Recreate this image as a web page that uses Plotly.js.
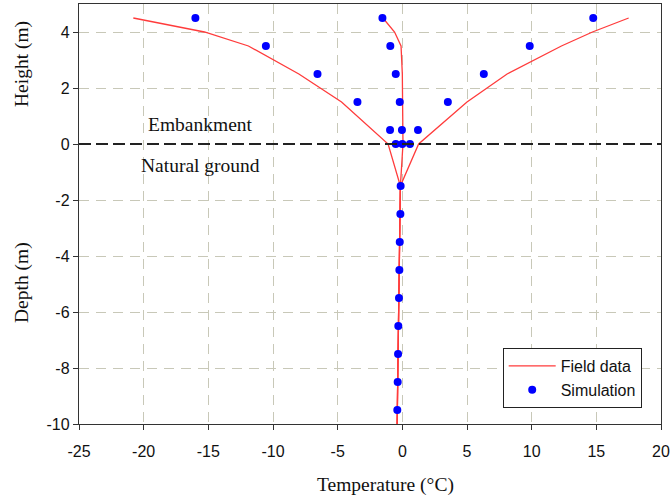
<!DOCTYPE html>
<html><head><meta charset="utf-8">
<script src="https://cdn.plot.ly/plotly-3.0.1.min.js"></script>
<style>html,body{margin:0;padding:0;background:#fff}#chart{width:670px;height:499px}</style>
</head><body><div id="chart"></div>
<script>
// Field data (three measured profiles), heights/depths in m, temperatures in °C
const upperY = [4.5, 4.0, 3.5, 2.5, 1.5, 0];
const fieldColdX = [-20.8, -15.3, -11.9, -8.0, -4.7, -1.1];
const fieldMidX = [-1.5, -0.6, -0.1, 0.0, 0.02, 0.05];
const fieldWarmX = [17.5, 14.7, 12.3, 8.1, 5.0, 1.26];
const lowerY = [-1.5, -2.5, -3.5, -4.5, -5.5, -6.5, -7.5, -8.5, -9.5, -10];
const fieldLowerX = [-0.15, -0.17, -0.2, -0.23, -0.26, -0.3, -0.33, -0.36, -0.39, -0.4];

// Simulation points
const simY = [4.5, 4.5, 4.5, 3.5, 3.5, 3.5, 2.5, 2.5, 2.5, 1.5, 1.5, 1.5, 0.5, 0.5, 0.5, 0, 0, 0,
              -1.5, -2.5, -3.5, -4.5, -5.5, -6.5, -7.5, -8.5, -9.5];
const simX = [-16.0, -1.54, 14.76, -10.55, -0.93, 9.85, -6.56, -0.51, 6.3, -3.47, -0.2, 3.52,
              -0.95, -0.03, 1.21, -0.51, 0.0, 0.59,
              -0.13, -0.15, -0.2, -0.23, -0.26, -0.31, -0.33, -0.36, -0.39];

const xTicks = [-25, -20, -15, -10, -5, 0, 5, 10, 15, 20];
const yTicks = [-10, -8, -6, -4, -2, 0, 2, 4];

const red = '#ff3b3b';
function branch(xs, show) {
  return {
    x: xs.concat(fieldLowerX), y: upperY.concat(lowerY),
    type: 'scatter', mode: 'lines', name: 'Field data',
    legendgroup: 'field', showlegend: show,
    line: {color: red, width: 1.3}
  };
}
const traces = [
  branch(fieldColdX, true),
  branch(fieldMidX, false),
  branch(fieldWarmX, false),
  {x: simX, y: simY, type: 'scatter', mode: 'markers', name: 'Simulation',
   marker: {color: '#0000ff', size: 8}}
];

const serif = 'Liberation Serif, Times New Roman, serif';
const sans = 'Liberation Sans, Arial, sans-serif';
const layout = {
  width: 670, height: 499,
  margin: {l: 79, r: 9, t: 4, b: 75},
  paper_bgcolor: '#fff', plot_bgcolor: '#fff',
  showlegend: true,
  legend: {x: 0.728, y: 0.181, xanchor: 'left', yanchor: 'top',
    bgcolor: '#fff', bordercolor: '#222', borderwidth: 1, itemwidth: 47,
    font: {family: sans, size: 16, color: '#111'}, tracegroupgap: 0},
  xaxis: {range: [-25, 20], tickvals: xTicks, ticktext: xTicks.map(String),
    showgrid: true, gridcolor: '#c8c8b8', griddash: '10px,7px', gridwidth: 1,
    zeroline: false, showline: true, linecolor: '#333', linewidth: 1.2, mirror: true,
    ticks: 'outside', ticklen: 5, tickcolor: '#333', ticklabelstandoff: 8,
    tickfont: {family: sans, size: 16, color: '#111'}},
  yaxis: {range: [-10, 5], tickvals: yTicks, ticktext: yTicks.map(String),
    showgrid: true, gridcolor: '#c8c8b8', griddash: '10px,7px', gridwidth: 1,
    zeroline: false, showline: true, linecolor: '#333', linewidth: 1.2, mirror: true,
    ticks: 'outside', ticklen: 5, tickcolor: '#333',
    tickfont: {family: sans, size: 16, color: '#111'}},
  shapes: [{type: 'line', xref: 'paper', yref: 'y', x0: 0, x1: 1, y0: 0, y1: 0,
    line: {color: '#222', width: 2, dash: '12px,5px'}}],
  annotations: [
    {text: 'Height (m)', xref: 'paper', yref: 'paper', x: -0.098, y: 0.857, textangle: -90,
     xanchor: 'center', yanchor: 'middle',
     showarrow: false, font: {family: serif, size: 19.5, color: '#111'}},
    {text: 'Depth (m)', xref: 'paper', yref: 'paper', x: -0.098, y: 0.338, textangle: -90,
     xanchor: 'center', yanchor: 'middle',
     showarrow: false, font: {family: serif, size: 19.5, color: '#111'}},
    {text: 'Temperature (°C)', xref: 'paper', yref: 'paper', x: 0.527, y: -0.145,
     xanchor: 'center', yanchor: 'middle',
     showarrow: false, font: {family: serif, size: 19.5, color: '#111'}},
    {text: 'Embankment', xref: 'x', yref: 'y', x: -15.6, y: 0.68,
     xanchor: 'center', yanchor: 'middle',
     showarrow: false, font: {family: serif, size: 19.5, color: '#111'}},
    {text: 'Natural ground', xref: 'x', yref: 'y', x: -15.6, y: -0.75,
     xanchor: 'center', yanchor: 'middle',
     showarrow: false, font: {family: serif, size: 19.5, color: '#111'}}
  ]
};
Plotly.newPlot('chart', traces, layout, {displayModeBar: false, staticPlot: true});
</script></body></html>
